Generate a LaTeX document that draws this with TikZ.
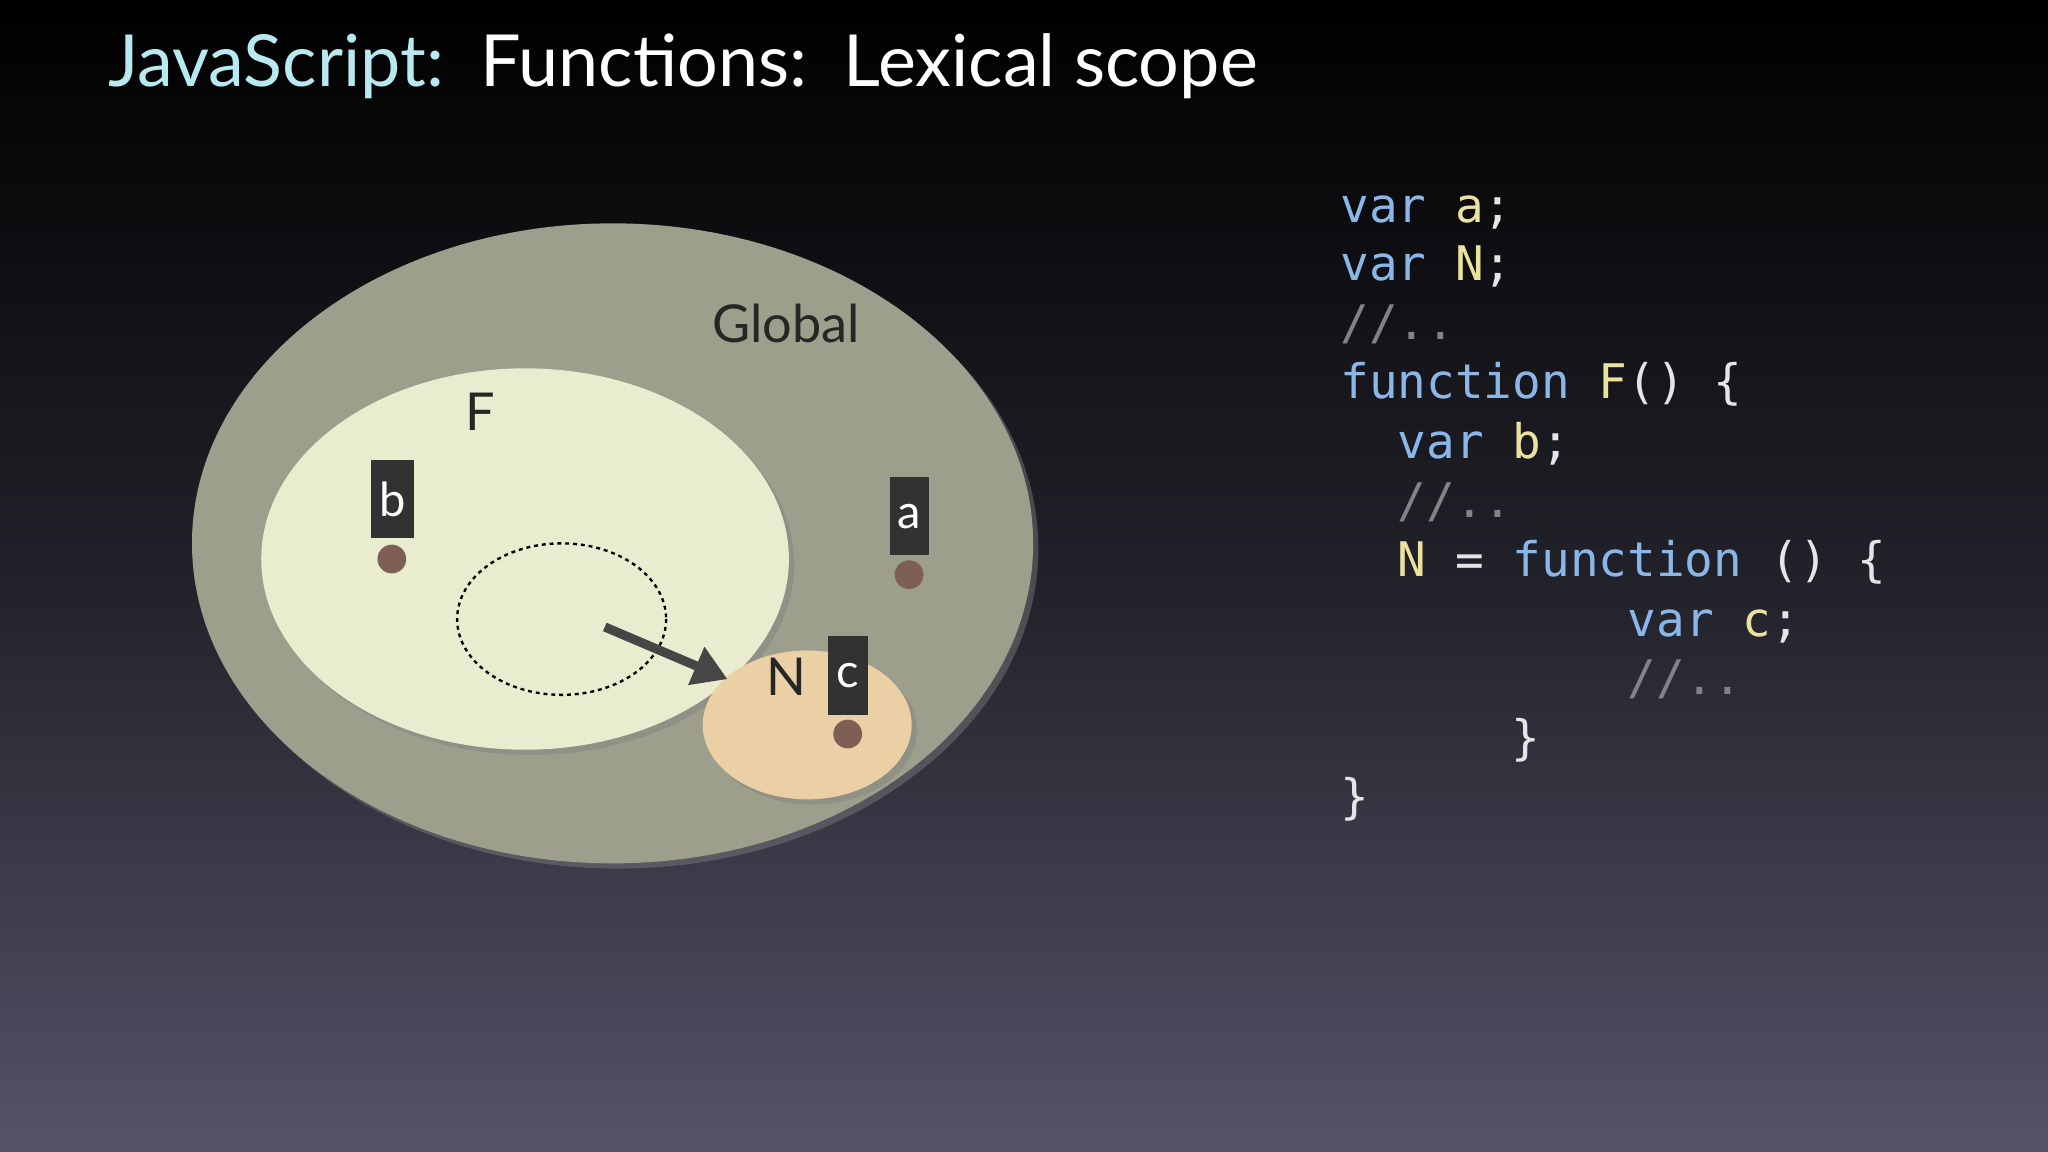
\documentclass[tikz,border=0pt]{standalone}
\usepackage{fontspec}
\setmainfont{Lato}
\newfontfamily\codefont{DejaVu Sans Mono}
\usetikzlibrary{shadows,arrows.meta}
\definecolor{bgbot}{RGB}{84,83,104}
\definecolor{globalc}{RGB}{157,158,139}
\definecolor{fc}{RGB}{233,236,206}
\definecolor{nc}{RGB}{235,208,166}
\definecolor{dotc}{RGB}{125,95,85}
\definecolor{boxc}{RGB}{50,50,50}
\definecolor{kw}{RGB}{138,182,232}
\definecolor{idc}{RGB}{236,226,160}
\definecolor{cmt}{RGB}{130,130,135}
\definecolor{titc}{RGB}{184,232,240}
\tikzset{
  scopeell/.style={draw=none, drop shadow={shadow xshift=4pt,shadow yshift=-4pt,opacity=0.45}},
  varbox/.style={fill=boxc, text=white, font=\fontsize{36}{36}\selectfont, inner sep=0pt, anchor=north west},
  vdot/.style={fill=dotc, draw=none},
  lbl/.style={text=black!85, font=\fontsize{40}{40}\selectfont},
  code/.style={anchor=base west, inner sep=0pt, font=\codefont\fontsize{36.5}{36.5}\selectfont}
}
\newcommand{\K}[1]{\textcolor{kw}{#1}}
\newcommand{\I}[1]{\textcolor{idc}{#1}}
\newcommand{\C}[1]{\textcolor{cmt}{#1}}
\newcommand{\W}[1]{\textcolor{white!90!black}{#1}}
\begin{document}
\begin{tikzpicture}[x=1pt,y=-1pt]
\useasboundingbox (0,0) rectangle (1568,882);
\shade[top color=black, bottom color=bgbot, middle color=black!60!bgbot] (0,0) rectangle (1568,882);
\node[anchor=base west, inner sep=0pt, font=\fontsize{55}{55}\selectfont] (title) at (83,66) {\textcolor{titc}{JavaScript:}\ \ \textcolor{white}{Functions:\ \ Lexical scope}};
% scopes
\fill[globalc, scopeell] (469,416) ellipse [x radius=322, y radius=245];
\node[lbl] (glob) at (602,248) {Global};
\fill[fc, scopeell] (402,428) ellipse [x radius=202, y radius=146];
\node[lbl] (fl) at (368,315) {F};
\draw[dashed, line width=1.8pt, black] (430,474) ellipse [x radius=80, y radius=58];
\coordinate (dsh) at (463,480);
\fill[nc, scopeell] (618,555) ellipse [x radius=80, y radius=57];
\coordinate (nin) at (557,520);
\draw[line width=7pt, boxc!90!white, -{Triangle[length=26pt,width=30pt]}] (dsh) -- (nin);
\node[lbl] (nl) at (602,518) {N};
% vars
\node[varbox, minimum width=33pt, minimum height=60pt] (b) at (284,352) {b};
\fill[vdot] (300,428) circle (11);
\node[varbox, minimum width=30pt, minimum height=60pt] (a) at (681,365) {a};
\fill[vdot] (696,440) circle (11);
\node[varbox, minimum width=30pt, minimum height=60pt] (c) at (634,487) {c};
\fill[vdot] (649,562) circle (11);
% code
\node[code] (l1) at (1026,170) {\K{var} \I{a}\W{;}};
\node[code] (l2) at (1026,215) {\K{var} \I{N}\W{;}};
\node[code] (l3) at (1026,260) {\C{//..}};
\node[code] (l4) at (1026,305) {\K{function} \I{F}\W{() \{}};
\node[code] (l5) at (1070,351) {\K{var} \I{b}\W{;}};
\node[code] (l6) at (1070,396) {\C{//..}};
\node[code] (l7) at (1070,441) {\I{N} \W{=} \K{function} \W{() \{}};
\node[code] (l8) at (1246,487) {\K{var} \I{c}\W{;}};
\node[code] (l9) at (1246,532) {\C{//..}};
\node[code] (l10) at (1157,578) {\W{\}}};
\node[code] (l11) at (1026,623) {\W{\}}};
\end{tikzpicture}
\end{document}
